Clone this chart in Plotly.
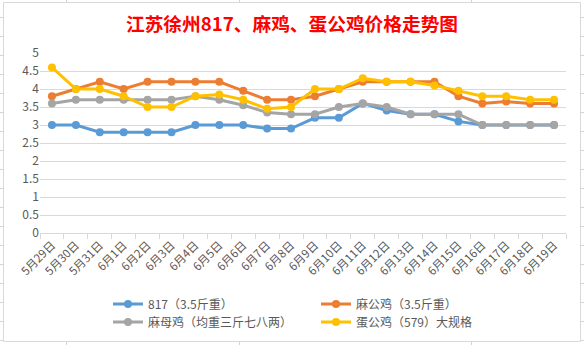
import plotly.graph_objects as go

W, H = 584, 345
ML, MR, MT, MB = 40, 18, 53, 112
PW, PH = W - ML - MR, H - MT - MB

dates = ["5月29日", "5月30日", "5月31日", "6月1日", "6月2日", "6月3日", "6月4日",
         "6月5日", "6月6日", "6月7日", "6月8日", "6月9日", "6月10日", "6月11日",
         "6月12日", "6月13日", "6月14日", "6月15日", "6月16日", "6月17日",
         "6月18日", "6月19日"]

s817 = [3.0, 3.0, 2.8, 2.8, 2.8, 2.8, 3.0, 3.0, 3.0, 2.9, 2.9, 3.2, 3.2, 3.6,
        3.4, 3.3, 3.3, 3.1, 3.0, 3.0, 3.0, 3.0]
s_magong = [3.8, 4.0, 4.2, 4.0, 4.2, 4.2, 4.2, 4.2, 3.95, 3.7, 3.7, 3.8, 4.0, 4.2,
            4.2, 4.2, 4.2, 3.8, 3.6, 3.65, 3.6, 3.6]
s_mamu = [3.6, 3.7, 3.7, 3.7, 3.7, 3.7, 3.8, 3.7, 3.55, 3.35, 3.3, 3.3, 3.5, 3.6,
          3.5, 3.3, 3.3, 3.3, 3.0, 3.0, 3.0, 3.0]
s_dangong = [4.6, 4.0, 4.0, 3.8, 3.5, 3.5, 3.8, 3.85, 3.7, 3.45, 3.5, 4.0, 4.0, 4.3,
             4.2, 4.2, 4.1, 3.95, 3.8, 3.8, 3.7, 3.7]

names = ["817（3.5斤重）", "麻公鸡（3.5斤重）", "麻母鸡（均重三斤七八两）", "蛋公鸡（579）大规格"]
colors = ["#5B9BD5", "#ED7D31", "#A5A5A5", "#FFC000"]
legends = ["legend", "legend", "legend2", "legend2"]
series = [s817, s_magong, s_mamu, s_dangong]

FONT = "Noto Sans CJK SC"
GREY = "#595959"

fig = go.Figure()
for name, vals, col, lg in zip(names, series, colors, legends):
    fig.add_trace(go.Scatter(
        x=dates, y=vals, name=name, mode="lines+markers", legend=lg,
        line=dict(color=col, width=3),
        marker=dict(color=col, size=8, symbol="circle"),
    ))


def px(x):
    return (x - ML) / PW


def py(y):
    return (H - MB - y) / PH


shapes = []
# chart frame
shapes.append(dict(type="rect", xref="paper", yref="paper",
                   x0=px(3.5), x1=px(580.5), y0=py(341.5), y1=py(2.5),
                   line=dict(color="#D9D9D9", width=1), layer="below"))
# spreadsheet grid stubs outside the frame
for xv in [66.5, 239.5, 471.5]:
    shapes.append(dict(type="line", xref="paper", yref="paper",
                       x0=px(xv), x1=px(xv), y0=py(0), y1=py(2.5),
                       line=dict(color="#D4D4D4", width=1)))
    shapes.append(dict(type="line", xref="paper", yref="paper",
                       x0=px(xv), x1=px(xv), y0=py(341.5), y1=py(345),
                       line=dict(color="#D4D4D4", width=1)))
yv = 17.5
while yv < 342:
    shapes.append(dict(type="line", xref="paper", yref="paper",
                       x0=px(0), x1=px(3.5), y0=py(yv), y1=py(yv),
                       line=dict(color="#D4D4D4", width=1)))
    shapes.append(dict(type="line", xref="paper", yref="paper",
                       x0=px(580.5), x1=px(584), y0=py(yv), y1=py(yv),
                       line=dict(color="#D4D4D4", width=1)))
    yv += 19

leg_common = dict(orientation="h", xref="container", yref="container",
                  xanchor="left", yanchor="middle", entrywidth=163,
                  entrywidthmode="pixels", bgcolor="rgba(0,0,0,0)",
                  font=dict(family=FONT, size=12, color=GREY),
                  traceorder="normal")

fig.update_layout(
    width=W, height=H,
    margin=dict(l=ML, r=MR, t=MT, b=MB),
    paper_bgcolor="white", plot_bgcolor="white",
    font=dict(family=FONT, color=GREY, size=12),
    title=dict(text="<b>江苏徐州817、麻鸡、蛋公鸡价格走势图</b>",
               x=292 / W, xanchor="center", xref="container",
               y=1 - 24 / H, yanchor="middle", yref="container",
               font=dict(family=FONT, size=18.7, color="#FF0000")),
    showlegend=True,
    legend=dict(x=108 / W, y=1 - 304 / H, **leg_common),
    legend2=dict(x=108 / W, y=1 - 322 / H, **leg_common),
    shapes=shapes,
    xaxis=dict(
        type="category", tickangle=-45, tickson="boundaries",
        ticks="outside", ticklen=5, tickcolor="#D9D9D9",
        showline=True, linecolor="#D9D9D9", linewidth=1,
        showgrid=False, zeroline=False,
        tickfont=dict(family=FONT, size=11.5, color=GREY),
        range=[-0.5, len(dates) - 0.5],
    ),
    yaxis=dict(
        range=[0, 5], dtick=0.5, tick0=0, showgrid=True, gridcolor="#D9D9D9",
        gridwidth=1, zeroline=False, showline=False, ticks="",
        tickfont=dict(family=FONT, size=12, color=GREY),
    ),
)

fig.write_html("out.html")
